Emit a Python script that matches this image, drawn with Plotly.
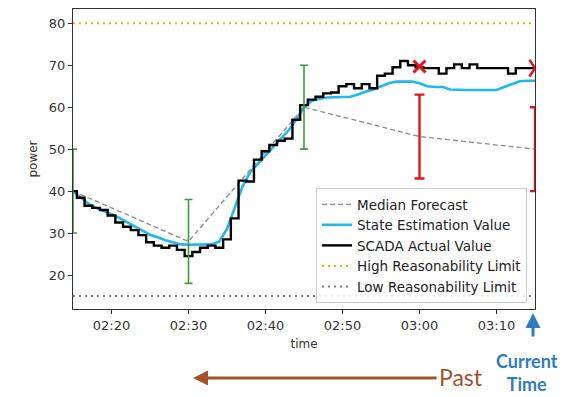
import plotly.graph_objects as go
import pandas as pd

# ---------------- data ----------------
start = "2020-01-01 02:15"
minutes = list(range(0, 61))
scada_values = [40, 38.4, 36.5, 36, 35.5, 34.2, 32.5, 31.5, 30.7, 29.5,
                27.8, 27, 26.5, 27, 26, 24.5, 25.5, 26.5, 27, 26.5,
                28.5, 33.5, 42.5, 42.3, 47.5, 49.5, 51, 52, 52.5, 57,
                60.5, 61.8, 62.5, 63.3, 63.5, 65, 65.5, 64.5, 65.5, 64.5,
                67.5, 68, 69.5, 71, 70, 69.5, 69.3, 69.3, 68, 69.3,
                70.2, 69.3, 70.2, 69.3, 69.3, 69.3, 69.3, 68, 69.3, 69.3, 69.3]
state_values = [40, 38.5, 37, 36, 35.3, 34.5, 33.6, 32.6, 31.6, 30.6,
                29.6, 29, 28.3, 27.8, 27.3, 27.2, 27.2, 27.2, 27.3, 28,
                31, 36, 41, 44.5, 46.5, 48.5, 50.5, 52.5, 54.5, 57,
                60, 61.5, 62, 62.3, 62.4, 62.5, 62.5, 63, 63.7, 64.2,
                65, 65.7, 66.1, 66.1, 66.1, 65.7, 65, 64.8, 64.8, 64.2,
                64.1, 64.1, 64.1, 64.1, 64.1, 64.1, 64.8, 65.5, 66.2, 66.3, 66.3]
forecast_times = ["02:15", "02:30", "02:45", "03:00", "03:15"]
forecast_values = [40, 28, 60, 53, 50]
forecast_error = [10, 10, 10, 10, 10]
past_count = 3
high_limit = 80
low_limit = 15
flag_times = ["03:00", "03:15"]
flag_values = [69.7, 69.3]
x_tick_labels = ["02:20", "02:30", "02:40", "02:50", "03:00", "03:10"]
y_ticks = [20, 30, 40, 50, 60, 70, 80]

# ---------------- build ----------------
t0 = pd.Timestamp(start)
times = [t0 + pd.Timedelta(minutes=m) for m in minutes]
def ts(hm):
    return pd.Timestamp("2020-01-01 " + hm)
f_times = [ts(h) for h in forecast_times]
x_range = [ts("02:15"), ts("03:15")]

fig = go.Figure()

fig.add_trace(go.Scatter(x=f_times, y=forecast_values, mode="lines",
                         name="Median Forecast",
                         line=dict(color="#8c8c8c", width=1.3, dash="5px,3px")))
fig.add_trace(go.Scatter(x=times, y=state_values, mode="lines",
                         name="State Estimation Value",
                         line=dict(color="#1fb8ec", width=2.6)))
fig.add_trace(go.Scatter(x=times, y=scada_values, mode="lines",
                         name="SCADA Actual Value", line_shape="hvh",
                         line=dict(color="black", width=2.4)))
fig.add_trace(go.Scatter(x=x_range, y=[high_limit] * 2, mode="lines",
                         name="High Reasonability Limit",
                         line=dict(color="#ffa500", width=2, dash="2px,4px")))
fig.add_trace(go.Scatter(x=x_range, y=[low_limit] * 2, mode="lines",
                         name="Low Reasonability Limit",
                         line=dict(color="#808080", width=2, dash="2px,4px")))

# past forecast error bars (green)
fig.add_trace(go.Scatter(x=f_times[:past_count], y=forecast_values[:past_count],
                         mode="markers", marker=dict(size=0.1, color="rgba(0,0,0,0)"),
                         showlegend=False, hoverinfo="skip",
                         error_y=dict(type="data", array=forecast_error[:past_count],
                                      color="#3f9a3f", thickness=1.6, width=4)))
# future forecast error bars (red)
fig.add_trace(go.Scatter(x=f_times[past_count:], y=forecast_values[past_count:],
                         mode="markers", marker=dict(size=0.1, color="rgba(0,0,0,0)"),
                         showlegend=False, hoverinfo="skip",
                         error_y=dict(type="data", array=forecast_error[past_count:],
                                      color="#e3141c", thickness=2.4, width=5)))
# flag markers
fig.add_trace(go.Scatter(x=[ts(flag_times[0])], y=[flag_values[0]], mode="markers",
                         showlegend=False, hoverinfo="skip",
                         marker=dict(symbol="x-thin", size=12,
                                     line=dict(color="#e3141c", width=3))))
fig.add_trace(go.Scatter(x=[ts(flag_times[1])], y=[flag_values[1]], mode="markers",
                         showlegend=False, hoverinfo="skip",
                         marker=dict(symbol="y-right", size=14,
                                     line=dict(color="#e3141c", width=2.5))))

axis_common = dict(showline=True, linecolor="#333333", linewidth=1, mirror=True,
                   ticks="outside", ticklen=4, tickcolor="#333333", showgrid=False,
                   zeroline=False, tickfont=dict(family="DejaVu Sans", size=13, color="#333333"))

fig.update_xaxes(range=x_range, type="date",
                 tickvals=[ts(h) for h in x_tick_labels], ticktext=x_tick_labels,
                 title=dict(text="time", font=dict(family="DejaVu Sans", size=12, color="#333333"),
                            standoff=8),
                 **axis_common)
fig.update_yaxes(range=[11.9, 83.4], tickvals=y_ticks,
                 title=dict(text="power", font=dict(family="DejaVu Sans", size=12, color="#333333"),
                            standoff=8),
                 **axis_common)

L, R, T, B = 73, 30, 9, 88
PW, PH = 565 - L - R, 397 - T - B
def px(xp):
    return (xp - L) / PW
def py(yp):
    return (397 - B - yp) / PH

fig.update_layout(
    width=565, height=397,
    margin=dict(l=L, r=R, t=T, b=B),
    paper_bgcolor="white", plot_bgcolor="white",
    showlegend=True,
    legend=dict(x=px(527), y=py(303), xanchor="right", yanchor="bottom",
                bgcolor="rgba(255,255,255,0.85)", bordercolor="#cccccc", borderwidth=1,
                font=dict(family="DejaVu Sans", size=13.5, color="#222222"),
                tracegroupgap=0, itemwidth=30),
)

# Past arrow
fig.add_annotation(xref="paper", yref="paper", x=px(193), y=py(378),
                   ax=245, ay=0, axref="pixel", ayref="pixel", text="",
                   showarrow=True, arrowhead=2, arrowsize=1, arrowwidth=3,
                   arrowcolor="#a3532a")
fig.add_annotation(xref="paper", yref="paper", x=px(461), y=py(377), text="Past",
                   xanchor="center", yanchor="middle",
                   showarrow=False, font=dict(family="Lato", size=23, color="#a3532a"))
# Current time arrow
fig.add_annotation(xref="paper", yref="paper", x=px(533), y=py(313),
                   ax=0, ay=25, text="", showarrow=True, arrowhead=2, arrowsize=1,
                   arrowwidth=3, arrowcolor="#2f7cc0")
fig.add_annotation(xref="paper", yref="paper", x=px(527), y=py(372),
                   xanchor="center", yanchor="middle",
                   text="<b>Current</b><br><b>Time</b>", showarrow=False,
                   font=dict(family="Lato", size=18, color="#2f7cc0"))

fig.write_html("out.html")
